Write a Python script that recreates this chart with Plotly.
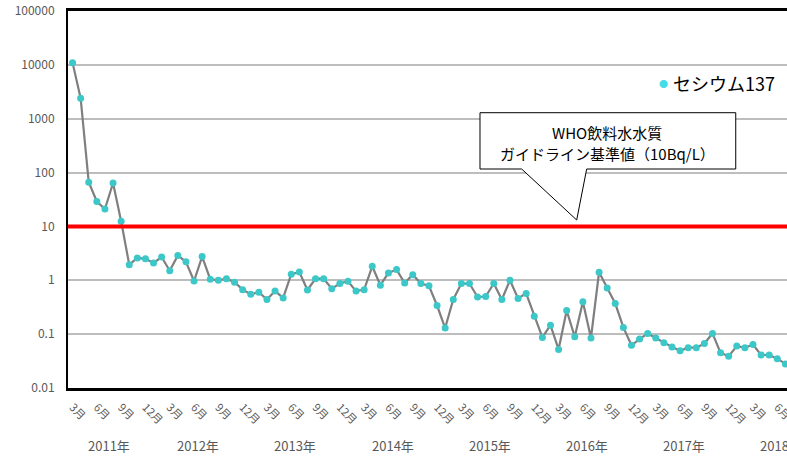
import plotly.graph_objects as go
import math

# ---- data ----
START_YEAR, START_MONTH = 2011, 3
N_MONTHS = 89
months = []
y, m = START_YEAR, START_MONTH
for _ in range(N_MONTHS):
    months.append(f"{y}年{m}月")
    m += 1
    if m > 12:
        m = 1
        y += 1

cesium137 = [
    11000, 2400, 66, 29, 21, 64, 12.5, 1.95, 2.6, 2.5,
    2.1, 2.7, 1.5, 2.9, 2.2, 0.97, 2.75, 1.05, 1.0, 1.07,
    0.92, 0.67, 0.55, 0.6, 0.44, 0.63, 0.47, 1.3, 1.42, 0.66,
    1.07, 1.07, 0.70, 0.87, 0.96, 0.63, 0.67, 1.82, 0.81, 1.37,
    1.58, 0.89, 1.27, 0.87, 0.79, 0.34, 0.13, 0.44, 0.87, 0.87,
    0.49, 0.50, 0.87, 0.44, 1.0, 0.46, 0.57, 0.215, 0.087, 0.147,
    0.052, 0.275, 0.089, 0.40, 0.085, 1.41, 0.72, 0.37, 0.133, 0.062,
    0.081, 0.103, 0.085, 0.069, 0.058, 0.049, 0.056, 0.056, 0.067, 0.103,
    0.045, 0.039, 0.060, 0.056, 0.064, 0.041, 0.041, 0.035, 0.028,
]

tick_months = [lbl for lbl in months if lbl.split("年")[1] in ("3月", "6月", "9月", "12月")]
tick_text = [lbl.split("年")[1] for lbl in tick_months]

years = ["2011年", "2012年", "2013年", "2014年", "2015年", "2016年", "2017年", "2018年"]
y_tickvals = [0.01, 0.1, 1, 10, 100, 1000, 10000, 100000]
y_ticktext = ["0.01", "0.1", "1", "10", "100", "1000", "10000", "100000"]

who_guideline = 10
series_name = "セシウム137"
callout_lines = ["WHO飲料水水質", "ガイドライン基準値（10Bq/L）"]

# ---- figure ----
W, H = 787, 459
L, R, T, B = 68, 0, 11, 71
PW, PH = W - L - R, H - T - B

def px(xp):
    return (xp - L) / PW

def py(yp):
    return (H - B - yp) / PH

FONT = "Noto Sans CJK JP"
GRAY_TXT = "#595959"
MARKER = "#3cc8c8"

fig = go.Figure()
fig.add_trace(go.Scatter(
    x=months, y=cesium137, mode="lines",
    line=dict(color="#7f7f7f", width=2.2),
    showlegend=False, hoverinfo="skip",
))
fig.add_trace(go.Scatter(
    x=months, y=cesium137, mode="markers", name=series_name,
    marker=dict(color=MARKER, size=7),
    showlegend=False,
))

# WHO guideline line
ymin, ymax = -2, 5
yg = (math.log10(who_guideline) - ymin) / (ymax - ymin)
fig.add_shape(type="line", xref="paper", yref="paper",
              x0=0, x1=1, y0=yg, y1=yg,
              line=dict(color="#ff0000", width=4), layer="above")

# callout box
pts = [(480, 112.7), (735.7, 112.7), (735.7, 169), (586.7, 169),
       (576.7, 220), (521.7, 169), (480, 169)]
path = "M " + " L ".join(f"{px(a):.4f},{py(b):.4f}" for a, b in pts) + " Z"
fig.add_shape(type="path", xref="paper", yref="paper", path=path,
              fillcolor="white", line=dict(color="black", width=1), layer="above")
fig.add_annotation(xref="paper", yref="paper", x=px(607), y=py(132.5),
                   xanchor="center", yanchor="middle",
                   text=callout_lines[0], showarrow=False,
                   font=dict(family=FONT, size=15, color="black"))
fig.add_annotation(xref="paper", yref="paper", x=px(607), y=py(153),
                   xanchor="center", yanchor="middle",
                   text=callout_lines[1], showarrow=False,
                   font=dict(family=FONT, size=15, color="black"))

# legend (as text)
fig.add_annotation(xref="paper", yref="paper", x=px(663), y=py(83),
                   xanchor="center", yanchor="middle", text="●", showarrow=False,
                   font=dict(family=FONT, size=9, color="#44dde6"))
fig.add_annotation(xref="paper", yref="paper", x=px(671), y=py(83),
                   xanchor="left", yanchor="middle", text=series_name, showarrow=False,
                   font=dict(family=FONT, size=18, color="black"))

# year labels
for yr in years:
    idx = [i for i, lbl in enumerate(months) if lbl.startswith(yr)]
    if yr == years[0]:
        center = (idx[0] + idx[-1]) / 2
    else:
        center = idx[0] + 5.5
    fig.add_annotation(xref="x", yref="paper", x=center, y=py(445),
                       xanchor="center", yanchor="middle",
                       text=yr, showarrow=False,
                       font=dict(family=FONT, size=13, color=GRAY_TXT))

fig.update_layout(
    width=W, height=H,
    margin=dict(l=L, r=R, t=T, b=B, autoexpand=False),
    paper_bgcolor="white", plot_bgcolor="white",
    font=dict(family=FONT, color=GRAY_TXT),
    showlegend=False,
)
fig.update_xaxes(
    type="category", categoryorder="array", categoryarray=months,
    range=[-0.56, 88.2],
    tickmode="array", tickvals=tick_months, ticktext=tick_text,
    tickangle=45, tickfont=dict(family=FONT, size=11, color=GRAY_TXT),
    showgrid=False, showline=True, linecolor="#000000", linewidth=2.5,
    mirror=True, ticks="", ticklabelstandoff=6, zeroline=False,
)
fig.update_yaxes(
    type="log", range=[ymin, ymax],
    tickmode="array", tickvals=y_tickvals, ticktext=y_ticktext,
    tickfont=dict(family=FONT, size=12, color=GRAY_TXT),
    showgrid=True, gridcolor="#bdbdbd", gridwidth=1.5,
    showline=True, linecolor="#000000", linewidth=2,
    ticks="", ticklabelstandoff=9, zeroline=False,
)

fig.write_html("out.html", config={"displayModeBar": False},
               post_script="document.body.style.margin='0';document.body.style.overflow='hidden';")
